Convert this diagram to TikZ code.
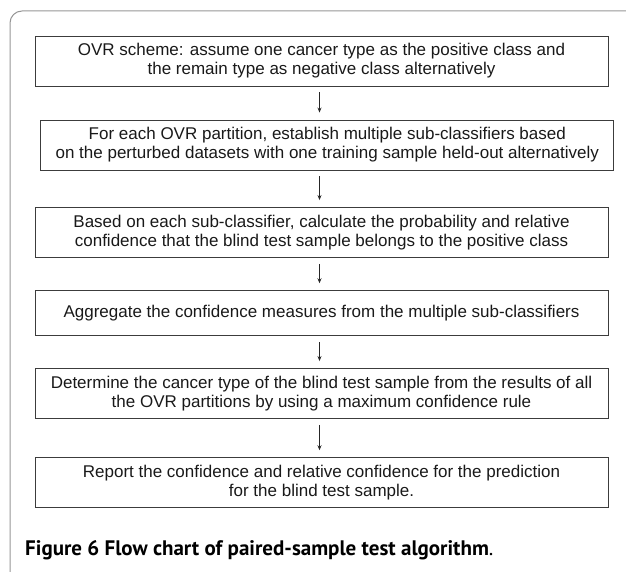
\documentclass[tikz,border=0pt]{standalone}
\usepackage{fontspec}
\setmainfont{Liberation Sans}
\newfontfamily\capfont{PT Sans}
\definecolor{framegray}{RGB}{150, 150, 150}
\definecolor{boxline}{RGB}{60, 60, 60}
\usetikzlibrary{shapes, arrows.meta, positioning, calc}
\tikzset{
  stepbox/.style={draw=boxline, line width=0.9pt, minimum width=573pt, minimum height=50pt, inner sep=0pt, align=center, font=\fontsize{17}{19}\selectfont, text=black!90},
  flow/.style={-{Stealth[length=5pt, width=4pt]}, line width=0.7pt, draw=black!85, shorten <=6pt, shorten >=7pt}
}

\begin{document}
\begin{tikzpicture}[x=1pt, y=-1pt]
  \useasboundingbox (0,0) rectangle (626,572);
  \draw[framegray, line width=1pt, rounded corners=12pt] (10,580) -- (10,11) -- (640,11);

  \node[stepbox] (ovr) at (321.5,61) {OVR scheme: assume one cancer type as the positive class and\\the remain type as negative class alternatively};
  \node[stepbox] (subcls) at (327.3,145) {For each OVR partition, establish multiple sub-classifiers based\\on the perturbed datasets with one training sample held-out alternatively};
  \node[stepbox] (prob) at (321.5,232.5) {Based on each sub-classifier, calculate the probability and relative\\confidence that the blind test sample belongs to the positive class};
  \node[stepbox, minimum height=45pt] (aggr) at (321.5,313.2) {Aggregate the confidence measures from the multiple sub-classifiers};
  \node[stepbox] (decide) at (321.5,393.5) {Determine the cancer type of the blind test sample from the results of all\\the OVR partitions by using a maximum confidence rule};
  \node[stepbox] (report) at (321.5,482.7) {Report the confidence and relative confidence for the prediction\\for the blind test sample.};

  \draw[flow] ([xshift=-2pt]ovr.south) -- ([xshift=-2pt]ovr.south |- subcls.north);
  \draw[flow] ([xshift=-2pt]ovr.south |- subcls.south) -- ([xshift=-2pt]prob.north);
  \draw[flow] ([xshift=-2pt]prob.south) -- ([xshift=-2pt]aggr.north);
  \draw[flow] ([xshift=-2pt]aggr.south) -- ([xshift=-2pt]decide.north);
  \draw[flow] ([xshift=-2pt]decide.south) -- ([xshift=-2pt]report.north);

  \node[anchor=base west, inner sep=0pt, font=\capfont\fontsize{21}{23}\selectfont] (caption) at (25,555) {\textbf{Figure 6 Flow chart of paired-sample test algorithm}.};
\end{tikzpicture}
\end{document}
